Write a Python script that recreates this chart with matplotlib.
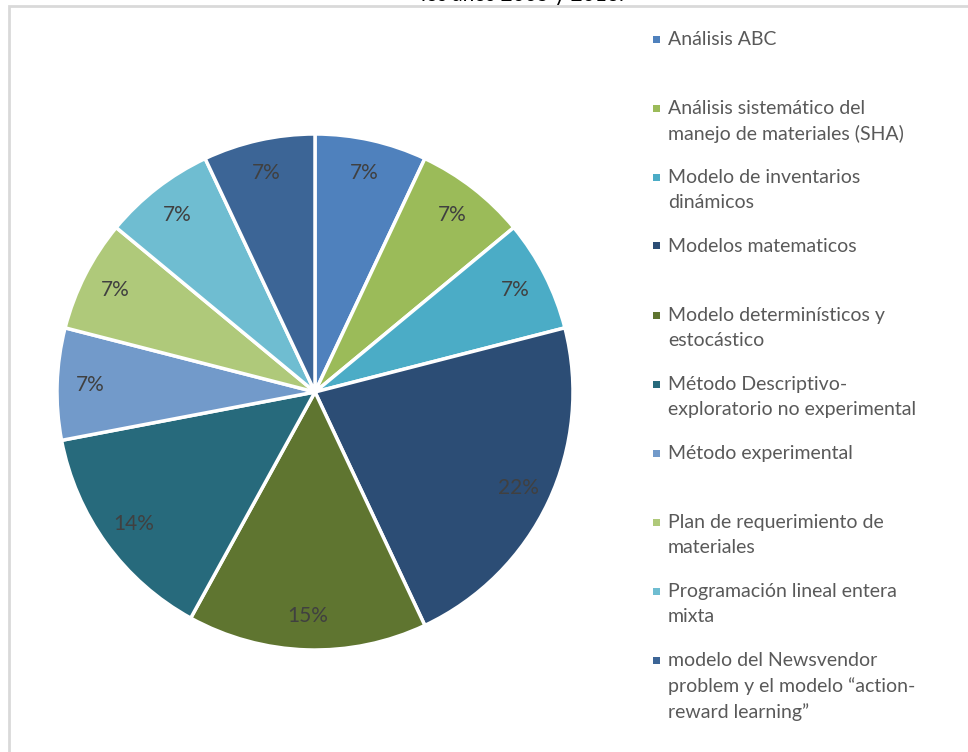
import matplotlib
matplotlib.use("Agg")
import matplotlib.pyplot as plt
import numpy as np
from matplotlib.patches import Rectangle

categories = [
    "Análisis ABC",
    "Análisis sistemático del\nmanejo de materiales (SHA)",
    "Modelo de inventarios\ndinámicos",
    "Modelos matematicos",
    "Modelo determinísticos y\nestocástico",
    "Método Descriptivo-\nexploratorio no experimental",
    "Método experimental",
    "Plan de requerimiento de\nmateriales",
    "Programación lineal entera\nmixta",
    "modelo del Newsvendor\nproblem y el modelo \u201caction-\nreward learning\u201d",
]
values = [7, 7, 7, 22, 15, 14, 7, 7, 7, 7]
labels = ["7%", "7%", "7%", "22%", "15%", "14%", "7%", "7%", "7%", "7%"]
colors = ["#4F81BD", "#9BBB59", "#4BACC6", "#2C4D75", "#5F7530",
          "#276A7C", "#729ACA", "#AFC97A", "#6FBDD1", "#3C6596"]
title_tail = "los años 2005 y 2016."

plt.rcParams['font.family'] = ['Lato', 'DejaVu Sans']

W, H = 968, 752
fig = plt.figure(figsize=(W / 100, H / 100), dpi=100)
fig.patch.set_facecolor("white")

# chart-area frame (only top and left edges visible)
fig.patches.append(Rectangle((9 / W, -0.2), 1.5, (H - 6) / H + 0.2,
                             transform=fig.transFigure, fill=False,
                             edgecolor="#D9D9D9", linewidth=2))

# title, cut off at the top edge as in the reference
fig.text(522 / W, 1 - 1 / H, title_tail, ha="center", va="baseline",
         fontsize=15, color="black")

cx, cy, r = 315, 392, 258
ax = fig.add_axes([(cx - r) / W, (H - cy - r) / H, 2 * r / W, 2 * r / H])
wedges, _ = ax.pie(values, colors=colors, startangle=90, counterclock=False,
                   radius=1, wedgeprops=dict(edgecolor="white", linewidth=2.5))
ax.set_xlim(-1, 1)
ax.set_ylim(-1, 1)
ax.set_aspect("equal")
ax.axis("off")

for w, lab in zip(wedges, labels):
    ang = np.deg2rad((w.theta1 + w.theta2) / 2)
    rr = 0.87
    ax.text(rr * np.cos(ang), rr * np.sin(ang), lab, ha="center", va="center",
            fontsize=15, color="#404040")

# legend
lx_marker, lx_text = 656, 668
for i, (cat, col) in enumerate(zip(categories, colors)):
    yc = 39 + 69 * i
    fig.patches.append(Rectangle(((lx_marker - 3.5) / W, 1 - (yc + 3.5) / H),
                                 7 / W, 7 / H, transform=fig.transFigure,
                                 facecolor=col, edgecolor="none"))
    fig.text(lx_text / W, 1 - (yc - 8) / H, cat, ha="left", va="top",
             fontsize=14, color="#595959", linespacing=1.55)

fig.savefig("out.png", dpi=100)
